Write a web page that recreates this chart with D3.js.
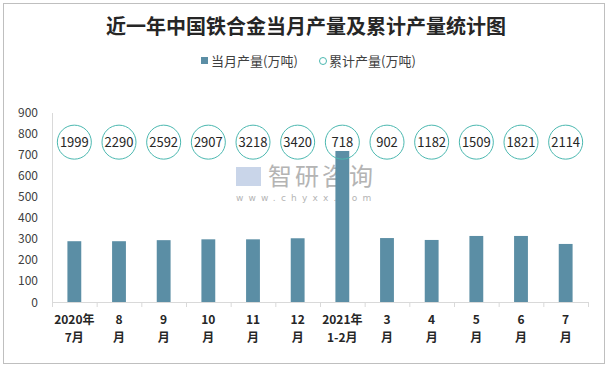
<!DOCTYPE html>
<html><head><meta charset="utf-8">
<script src="https://cdn.jsdelivr.net/npm/d3@7/dist/d3.min.js"></script>
<style>body{margin:0;background:#fff}svg{display:block}</style>
</head><body>
<script>
const categoriesTop = ["2020年","8","9","10","11","12","2021年","3","4","5","6","7"];
const categoriesBottom = ["7月","月","月","月","月","月","1-2月","月","月","月","月","月"];
const monthly = [289, 289, 294, 298, 298, 303, 718, 304, 295, 314, 314, 276];
const cumulative = [1999, 2290, 2592, 2907, 3218, 3420, 718, 902, 1182, 1509, 1821, 2114];
const yTicks = [0,100,200,300,400,500,600,700,800,900];
const labelLevel = 760;

const W = 612, H = 369;
const svg = d3.select("body").append("svg").attr("width", W).attr("height", H);
svg.append("rect").attr("x",3.5).attr("y",3.5).attr("width",601).attr("height",360)
  .attr("fill","#fff").attr("stroke","#bfbfbf");

const font = "'Microsoft YaHei','Noto Sans CJK SC',sans-serif";
svg.append("text").attr("x",306).attr("y",34).attr("text-anchor","middle")
  .attr("font-family","'Noto Sans CJK SC',serif").attr("font-weight","bold").attr("font-size",20)
  .attr("fill","#262626").text("近一年中国铁合金当月产量及累计产量统计图");

// legend
const lg = svg.append("g").attr("font-family",font).attr("font-size",13).attr("fill","#404040");
lg.append("rect").attr("x",201).attr("y",57).attr("width",7).attr("height",7).attr("fill","#5b8ea5");
lg.append("text").attr("x",211).attr("y",65.5).text("当月产量(万吨)");
lg.append("circle").attr("cx",323).attr("cy",61).attr("r",3.5).attr("fill","#fff").attr("stroke","#4bb8b0");
lg.append("text").attr("x",329).attr("y",65.5).text("累计产量(万吨)");

const x = d3.scaleBand().domain(d3.range(12)).range([52,588]).paddingInner(0.69).paddingOuter(0.345);
const y = d3.scaleLinear().domain([0,900]).range([302,112.7]);

// watermark
const wm = svg.append("g");
wm.append("rect").attr("x",236).attr("y",167).attr("width",25).attr("height",19).attr("fill","#c9d5e9");
wm.append("text").attr("x",268).attr("y",185).attr("font-family",font).attr("font-size",24)
  .attr("fill","#b4b4b4").attr("letter-spacing",3).text("智研咨询");
wm.append("text").attr("x",236).attr("y",201).attr("font-family","'DejaVu Sans',sans-serif").attr("font-size",9)
  .attr("fill","#b4b4b4").attr("letter-spacing",5.2).text("www.chyxx.com");

// y axis labels
svg.append("g").selectAll("text").data(yTicks).join("text")
  .attr("x",38).attr("y",d=>y(d)+4.5).attr("text-anchor","end")
  .attr("font-family",font).attr("font-size",12).attr("fill","#404040").text(d=>d);
svg.append("line").attr("x1",52.5).attr("x2",52.5).attr("y1",113).attr("y2",302).attr("stroke","#d9d9d9");

// bars
svg.append("g").selectAll("rect").data(monthly).join("rect")
  .attr("x",(d,i)=>x(i)).attr("width",x.bandwidth())
  .attr("y",d=>y(d)).attr("height",d=>y(0)-y(d)).attr("fill","#5b8ea5");

// x axis
const step = x.step();
svg.append("line").attr("x1",52).attr("x2",588).attr("y1",302.5).attr("y2",302.5).attr("stroke","#d9d9d9");
svg.append("g").selectAll("line").data(d3.range(13)).join("line")
  .attr("x1",i=>52.5+i*step).attr("x2",i=>52.5+i*step).attr("y1",302).attr("y2",307).attr("stroke","#d9d9d9");
const xl = svg.append("g").attr("font-family",font).attr("font-size",12).attr("font-weight","bold").attr("fill","#262626").attr("text-anchor","middle");
xl.selectAll("text.t").data(categoriesTop).join("text").attr("class","t")
  .attr("x",(d,i)=>x(i)+x.bandwidth()/2).attr("y",324).text(d=>d);
xl.selectAll("text.b").data(categoriesBottom).join("text").attr("class","b")
  .attr("x",(d,i)=>x(i)+x.bandwidth()/2).attr("y",342).text(d=>d);

// cumulative circles
const cg = svg.append("g").selectAll("g").data(cumulative).join("g")
  .attr("transform",(d,i)=>`translate(${x(i)+x.bandwidth()/2},${y(labelLevel)})`);
cg.append("circle").attr("r",17).attr("fill","none").attr("stroke","#4bb8b0").attr("stroke-width",1);
cg.append("text").attr("text-anchor","middle").attr("y",4.5).attr("font-family",font).attr("font-size",13)
  .attr("fill","#262626").text(d=>d);
</script>
</body></html>
